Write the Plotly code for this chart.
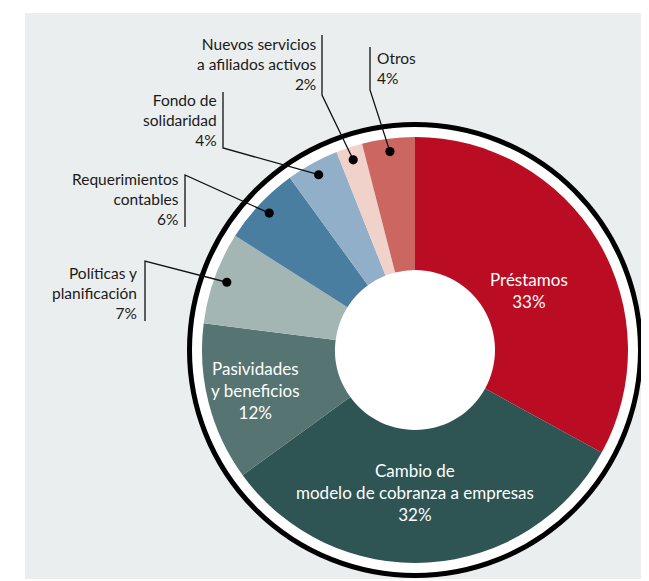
import math
import plotly.graph_objects as go

# ---- data ----
categories = ["Préstamos", "Cambio de modelo de cobranza a empresas", "Pasividades y beneficios",
              "Políticas y planificación", "Requerimientos contables", "Fondo de solidaridad",
              "Nuevos servicios a afiliados activos", "Otros"]
values = [33, 32, 12, 7, 6, 4, 2, 4]
label_text = ["Préstamos<br>33%", "Cambio de<br>modelo de cobranza a empresas<br>32%",
              "Pasividades<br>y beneficios<br>12%", "Políticas y<br>planificación<br>7%",
              "Requerimientos<br>contables<br>6%", "Fondo de<br>solidaridad<br>4%",
              "Nuevos servicios<br>a afiliados activos<br>2%", "Otros<br>4%"]
colors = ["#BA0C22", "#2E5454", "#557472", "#A3B6B4", "#4A7EA1", "#92AFC9", "#F1D2CB", "#CC6660"]

# ---- layout constants (pixels, in screenshot coordinates) ----
OFF = 8  # page body margin
W, H = 649 - OFF, 581 - OFF
CX, CY, R = 415, 350, 213
HOLE = 80 / 213
FONT = "Lato, sans-serif"

def px(x):
    return (x - OFF) / W

def py(y):
    return 1 - (y - OFF) / H

fig = go.Figure(go.Pie(
    labels=categories, values=values, sort=False, direction="clockwise", rotation=0,
    hole=HOLE, marker=dict(colors=colors, line=dict(width=0)),
    textinfo="none", hoverinfo="label+percent", showlegend=False,
    domain=dict(x=[px(CX - R), px(CX + R)], y=[py(CY + R), py(CY - R)]),
))

shapes = [
    dict(type="rect", xref="paper", yref="paper", x0=px(25), x1=1.0, y0=py(579), y1=py(13),
         fillcolor="#EAEEEF", line=dict(width=0), layer="below"),
    dict(type="circle", xref="paper", yref="paper", x0=px(CX - 225.5), x1=px(CX + 225.5),
         y0=py(CY + 225.5), y1=py(CY - 225.5), fillcolor="white",
         line=dict(color="black", width=5), layer="below"),
]

# leader lines: elbow points, then to the dot inside the slice
leaders = {
    3: [(145, 321), (145, 261)],
    4: [(185, 227), (185, 175)],
    5: [(223, 92), (223, 148)],
    6: [(322, 35), (322, 95)],
    7: [(370, 47), (370, 90)],
}
total = sum(values)
cum = 0
mids = []
for v in values:
    mids.append((cum + v / 2) / total * 2 * math.pi)
    cum += v
for i, pts in leaders.items():
    a = mids[i]
    dx, dy = CX + 200 * math.sin(a), CY - 200 * math.cos(a)
    path_pts = pts + [(dx, dy)]
    path = "M " + " L ".join(f"{px(x)},{py(y)}" for x, y in path_pts)
    shapes.append(dict(type="path", xref="paper", yref="paper", path=path,
                       line=dict(color="#111", width=1.3), layer="above"))
    r = 4.6
    shapes.append(dict(type="circle", xref="paper", yref="paper",
                       x0=px(dx - r), x1=px(dx + r), y0=py(dy + r), y1=py(dy - r),
                       fillcolor="black", line=dict(width=0), layer="above"))

annotations = []
inside = {0: (529, 291), 1: (415, 492), 2: (255, 391)}
for i, (x, y) in inside.items():
    annotations.append(dict(xref="paper", yref="paper", x=px(x), y=py(y), text=label_text[i],
                            showarrow=False, xanchor="center", yanchor="middle", align="center",
                            font=dict(family=FONT, size=17, color="white")))
outside = {3: (139, 293, "right"), 4: (181, 199, "right"), 5: (219, 120, "right"),
           6: (319, 64, "right"), 7: (375, 68, "left")}
for i, (x, y, al) in outside.items():
    annotations.append(dict(xref="paper", yref="paper", x=px(x), y=py(y), text=label_text[i],
                            showarrow=False, xanchor=al, yanchor="middle", align=al,
                            font=dict(family=FONT, size=15.5, color="#1a1a1a")))

fig.update_layout(width=W, height=H, margin=dict(l=0, r=0, t=0, b=0),
                  paper_bgcolor="white", plot_bgcolor="white",
                  shapes=shapes, annotations=annotations)
fig.write_html("out.html")
